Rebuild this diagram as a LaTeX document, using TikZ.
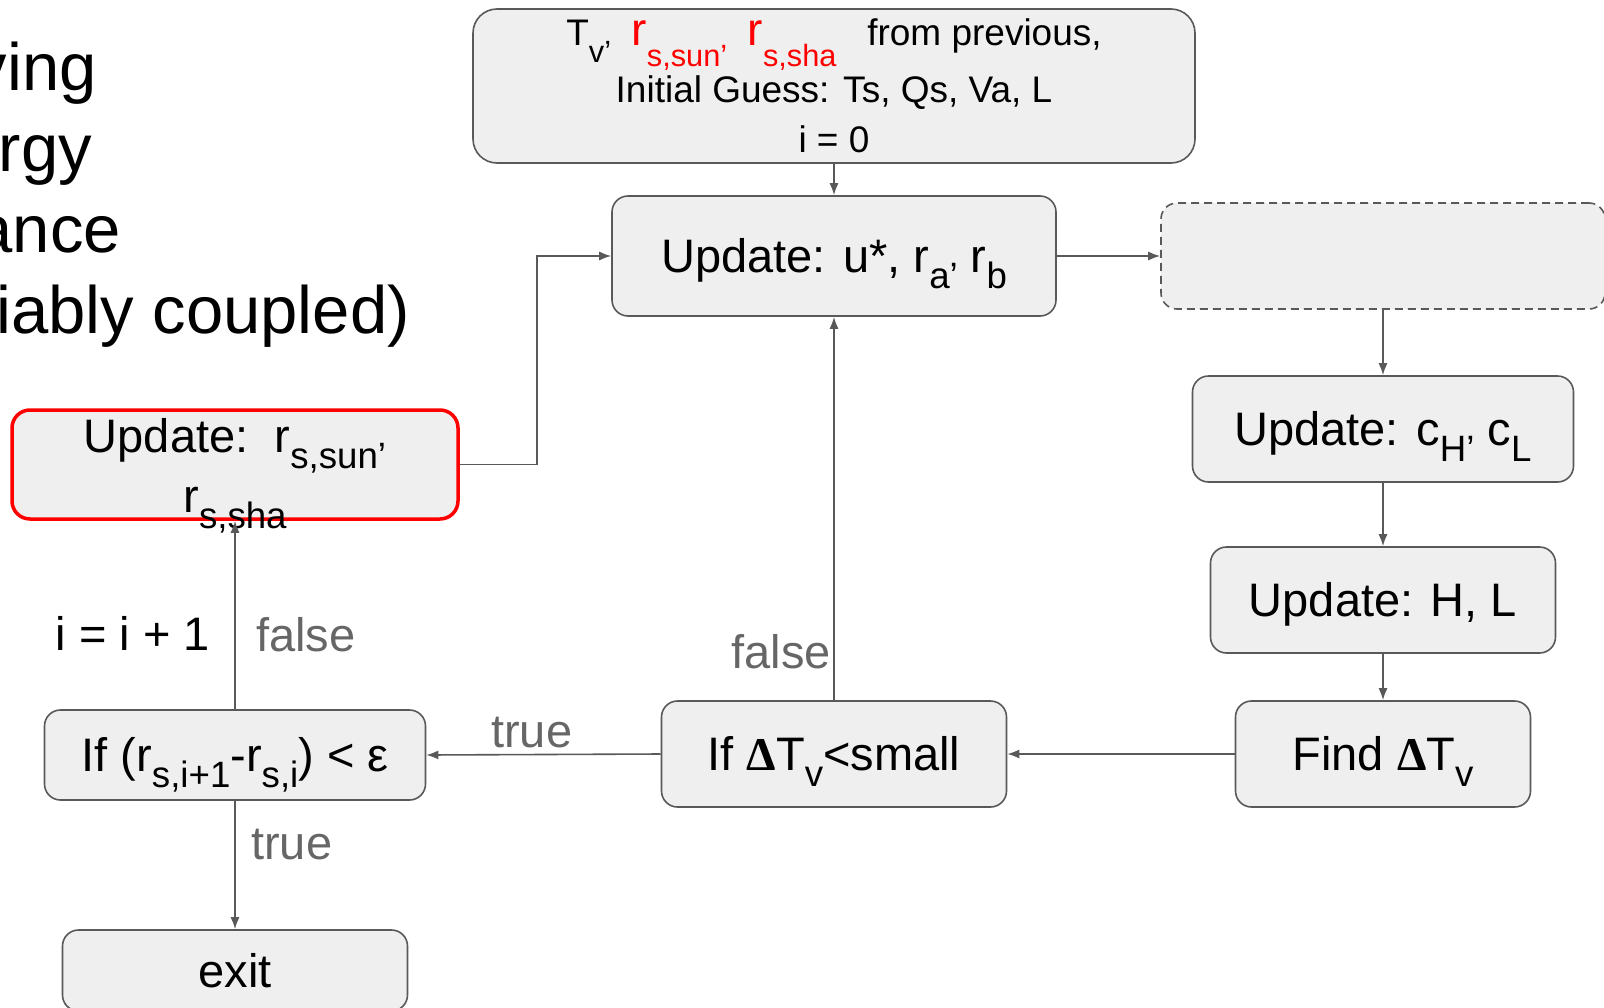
\documentclass[tikz,border=0pt]{standalone}
\usepackage{fontspec}
\setmainfont{Liberation Sans}
\newfontfamily\deltafont{Liberation Serif}
\usetikzlibrary{arrows.meta}

\definecolor{boxfill}{HTML}{EFEFEF}
\definecolor{boxline}{HTML}{595959}
\definecolor{tagtext}{HTML}{666666}

\makeatletter
\newcommand{\lofactor}{0.78}
\newcommand{\lo}[2][0.35em]{\raisebox{-#1}{\fontsize{\fpeval{\lofactor*\f@size}}{0}\selectfont #2}}
\makeatother
\newcommand{\dT}{{\deltafont\bfseries Δ}T}

\begin{document}
\begin{tikzpicture}[x = 1pt, y = -1pt, > = {Latex[length = 12pt, width = 9pt]},
	box/.style = {draw = boxline, fill = boxfill, line width = 1.6pt, rounded corners = 16pt, inner sep = 0pt, font = \fontsize{47}{56}\selectfont},
	onebox/.style = {box, text height = 42pt, text depth = 9pt},
	flow/.style = {->, draw = boxline, line width = 1.6pt},
	tag/.style = {inner sep = 0pt, font = \fontsize{47}{56}\selectfont}]

\useasboundingbox (0, 0) rectangle (1604, 1007);
\clip (0, 0) rectangle (1604, 1007);

% Title text, cut off at the left edge

\node (titleA) [tag, anchor = base east, font = \fontsize{67}{80}\selectfont] at (97, 90) {ving};
\node (titleB) [tag, anchor = base east, font = \fontsize{67}{80}\selectfont] at (92, 171) {rgy};
\node (titleC) [tag, anchor = base east, font = \fontsize{67}{80}\selectfont] at (121, 252) {ance};
\node (titleD) [tag, anchor = base east, font = \fontsize{67}{80}\selectfont] at (410, 333) {iably coupled)};

% Start box

\node (start) [box, minimum width = 722pt, minimum height = 154pt, rounded corners = 24pt, align = center, font = {\fontsize{37}{50}\selectfont\def\lofactor{0.83}}] at (834, 86)
	{T\lo[0.45em]{v’}\ \ {\color{red}{\fontsize{46}{50}\selectfont r}\lo[0.55em]{s,sun’}\ \ {\fontsize{46}{50}\selectfont r}\lo[0.55em]{s,sha}}\ \ \ from previous,\\[5pt]
	Initial Guess: Ts, Qs, Va, L\\
	i = 0};

% Inner loop

\node (upd) [onebox, minimum width = 444pt, minimum height = 120pt] at (834, 256) {Update: u*, r\lo{a’} r\lo{b}};
\node (spare) [box, dash pattern = on 8pt off 5pt, minimum width = 444pt, minimum height = 106pt] at (1383, 256) {};
\node (ch) [onebox, minimum width = 381pt, minimum height = 106pt] at (1383, 429) {Update: c\lo{H’} c\lo{L}};
\node (hl) [onebox, minimum width = 345pt, minimum height = 106pt] at (1383, 600) {Update: H, L};
\node (find) [onebox, minimum width = 295pt, minimum height = 106pt] at (1383, 754) {Find \dT\lo{v}};
\node (ifdt) [onebox, minimum width = 345pt, minimum height = 106pt] at (834, 754) {If \dT\lo{v}<small};

% Outer loop

\node (ifr) [onebox, minimum width = 381pt, minimum height = 90pt] at (235, 755) {If (r\lo{s,i+1}-r\lo{s,i}) < ε};
\node (exit) [onebox, minimum width = 345pt, minimum height = 81pt] at (235, 970.5) {exit};
\node (rsupd) [box, draw = red, line width = 3.5pt, minimum width = 446pt, minimum height = 109pt, rounded corners = 18pt] at (235, 464.5) {};
\node (rstext) [tag, anchor = north, align = center, font = \fontsize{47}{60}\selectfont] at (235, 418) {Update:\ \ r\lo{s,sun’}\\r\lo{s,sha}};

% Connectors

\draw [flow] (start) -- (upd);
\draw [flow] (upd) -- (spare);
\draw [flow] (spare) -- (ch);
\draw [flow] (ch) -- (hl);
\draw [flow] (hl) -- (find);
\draw [flow] (find) -- (ifdt);
\draw [flow] (ifdt) -- (upd);
\draw [flow] (ifdt.west) -- (ifr.east);
\draw [flow] (ifr) -- (rsupd);
\draw [flow] (ifr) -- (exit);
\draw [flow] (rsupd.east) -- ++(77, 0) |- (upd.west);

% Labels

\node (incr) [tag, anchor = base east] at (210, 650) {i = i + 1};
\node (rfalse) [tag, text = tagtext, anchor = base west] at (256, 651) {false};
\node (rtrue) [tag, text = tagtext, anchor = base west] at (251, 859) {true};
\node (dttrue) [tag, text = tagtext, anchor = base west] at (491, 747) {true};
\node (dtfalse) [tag, text = tagtext, anchor = base east] at (831, 668) {false};

\end{tikzpicture}
\end{document}
